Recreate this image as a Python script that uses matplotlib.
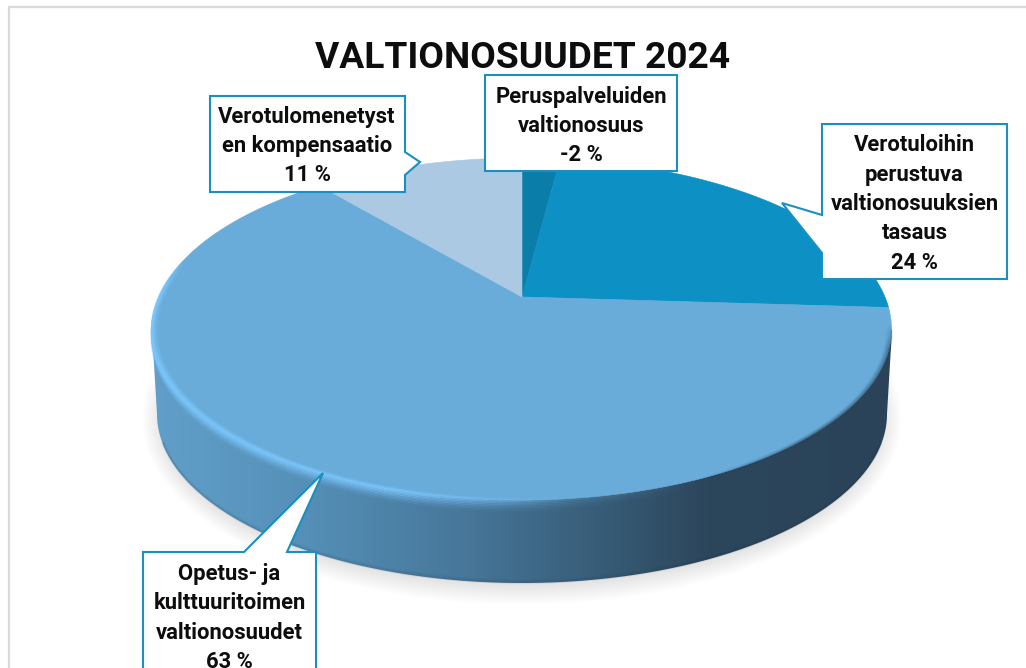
import numpy as np
import matplotlib
matplotlib.use("Agg")
import matplotlib.pyplot as plt
from matplotlib.collections import LineCollection
from matplotlib.colors import LinearSegmentedColormap, to_rgb
from matplotlib.patches import Polygon, Rectangle

plt.rcParams["font.family"] = ["Roboto", "DejaVu Sans"]

title = "VALTIONOSUUDET 2024"
categories = [
    "Peruspalveluiden\nvaltionosuus",
    "Verotuloihin\nperustuva\nvaltionosuuksien\ntasaus",
    "Opetus- ja\nkulttuuritoimen\nvaltionosuudet",
    "Verotulomenetyst\nen kompensaatio",
]
values = [-2, 24, 63, 11]
colors = ["#0a7ea9", "#0d91c5", "#69acda", "#abc9e3"]

# pie geometry in pixels
cx, cy = 522, 297
r_x, r_up, persp = 363, 165, 0.187
mid_y, rim_x, rim_y = 330, 370, 171
depth, low_rx, low_ry = 84, 365, 169


def rim(theta):
    # clockwise from 12 o'clock, perspective tilted disc
    u, v = np.sin(theta), np.cos(theta)
    d = 1 + persp * v
    return cx + r_x * u / d, cy - r_up * v / d


def ring(theta, inset=0.0, drop=0.0):
    return (cx + (rim_x - inset) * np.sin(theta),
            mid_y - (rim_y - inset * 0.46) * np.cos(theta) + drop)


fig = plt.figure(figsize=(10.26, 6.68), dpi=100)
ax = fig.add_axes([0, 0, 1, 1])
ax.set_xlim(0, 1026)
ax.set_ylim(668, 0)
ax.axis("off")

# chart frame
ax.add_patch(Rectangle((8.5, 7), 1030, 680, fc="white", ec="#d9d9d9", lw=1.6, zorder=0))

# soft shadow under the pie
low_cy = mid_y + depth
for i in range(16):
    t = np.linspace(0, 2 * np.pi, 300)
    grow = i * 1.5
    ax.fill(cx + (low_rx - 8 + grow) * np.sin(t), low_cy + 5 + (low_ry - 6 + grow) * np.cos(t),
            color="black", alpha=0.009, lw=0, zorder=1)

# side wall with horizontal gradient
t = np.linspace(np.pi / 2, 3 * np.pi / 2, 300)
wall_x = cx + low_rx * np.sin(t)
wall_y = low_cy - low_ry * np.cos(t)
wall_x = np.r_[cx + rim_x, wall_x, cx - rim_x]
wall_y = np.r_[mid_y, wall_y, mid_y]
wall = Polygon(np.c_[wall_x, wall_y], closed=True, fc="none", ec="none")
ax.add_patch(wall)
wall_cmap = LinearSegmentedColormap.from_list("wall", [
    (0.0, "#619fca"), (0.2, "#5590b8"), (0.42, "#47779a"),
    (0.62, "#365a74"), (0.75, "#2c465c"), (1.0, "#2a4358"),
])
img = ax.imshow(np.linspace(0, 1, 256)[None, :], cmap=wall_cmap, aspect="auto",
                extent=(cx - rim_x, cx + rim_x, 600, mid_y - 20), zorder=2)
img.set_clip_path(wall)
ax.set_xlim(0, 1026)
ax.set_ylim(668, 0)

# lower edge of the wall gets a little darker
t = np.linspace(np.radians(100), np.radians(260), 300)
for i in range(4):
    px = cx + (low_rx - i * 0.5) * np.sin(t)
    py = low_cy - (low_ry - i) * np.cos(t)
    ax.plot(px, py, color="#1f3a50", alpha=0.1 - i * 0.02, lw=1.2, zorder=3)

# top face, one wedge per value
angles = np.r_[0, np.cumsum(np.abs(values))] / np.sum(np.abs(values)) * 2 * np.pi
for a0, a1, col in zip(angles[:-1], angles[1:], colors):
    t = np.linspace(a0, a1, 200)
    px, py = rim(t)
    ax.add_patch(Polygon(np.c_[np.r_[cx, px], np.r_[cy, py]], closed=True,
                         fc=col, ec=col, lw=0.4, zorder=4))

# bevel highlight around the front rim
t = np.linspace(np.radians(150), np.radians(295), 500)
strength = np.interp(np.degrees(t), [150, 172, 200, 270, 283, 295], [0, 0.12, 0.8, 1, 0.6, 0])
hi = np.array(to_rgb("#7cc6fb"))
for inset, drop, a in [(6, 0, 0.08), (4.5, 0, 0.2), (3, 0, 0.4), (1.5, 0, 0.7),
                       (0, 0, 1.0), (0, 1.5, 0.85), (0, 3, 0.65), (0, 4.5, 0.48),
                       (0, 6, 0.34), (0, 7.5, 0.22), (0, 9, 0.13), (0, 10.5, 0.06)]:
    px, py = ring(t, inset, drop)
    pts = np.c_[px, py]
    segs = np.stack([pts[:-1], pts[1:]], axis=1)
    rgba = np.c_[np.tile(hi, (len(segs), 1)), strength[:-1] * a]
    ax.add_collection(LineCollection(segs, colors=rgba, linewidths=1.7, zorder=5, capstyle="butt"))

# dark blur on the right side of the rim
t = np.linspace(np.radians(88), np.radians(150), 200)
strength = np.interp(np.degrees(t), [88, 96, 125, 150], [0, 0.8, 0.8, 0])
for inset, a in [(5, 0.1), (3.5, 0.22), (2, 0.36), (0.5, 0.5)]:
    px, py = ring(t, inset)
    pts = np.c_[px, py]
    segs = np.stack([pts[:-1], pts[1:]], axis=1)
    rgba = np.c_[np.tile(to_rgb("#2a4358"), (len(segs), 1)), strength[:-1] * a]
    ax.add_collection(LineCollection(segs, colors=rgba, linewidths=1.7, zorder=5))

# callouts: outline, then label
box_color = "#1a8fc0"
callouts = [
    [(485, 75), (677, 75), (677, 171), (485, 171)],
    [(822, 124), (1007, 124), (1007, 279), (822, 279), (822, 253), (782, 203), (822, 215)],
    [(143, 552), (244, 552), (323, 473), (287, 552), (316, 552), (316, 680), (143, 680)],
    [(210, 96), (405, 96), (405, 152), (420, 162), (405, 175), (405, 192), (210, 192)],
]
label_centers = [(581, 126), (914.5, 204), (229.5, 618), (307, 146)]
for outline, center, cat, val in zip(callouts, label_centers, categories, values):
    ax.add_patch(Polygon(outline, closed=True, fc="white", ec=box_color, lw=1.5,
                         joinstyle="miter", zorder=6))
    ax.text(center[0], center[1], f"{cat}\n{val} %", ha="center", va="center",
            fontsize=15.8, fontweight="bold", color="#0d0d0d", linespacing=1.43, zorder=7)

ax.text(523, 58, title, ha="center", va="center", fontsize=26.7, fontweight="bold",
        color="#0d0d0d", zorder=7)

fig.savefig("out.png", dpi=100)
